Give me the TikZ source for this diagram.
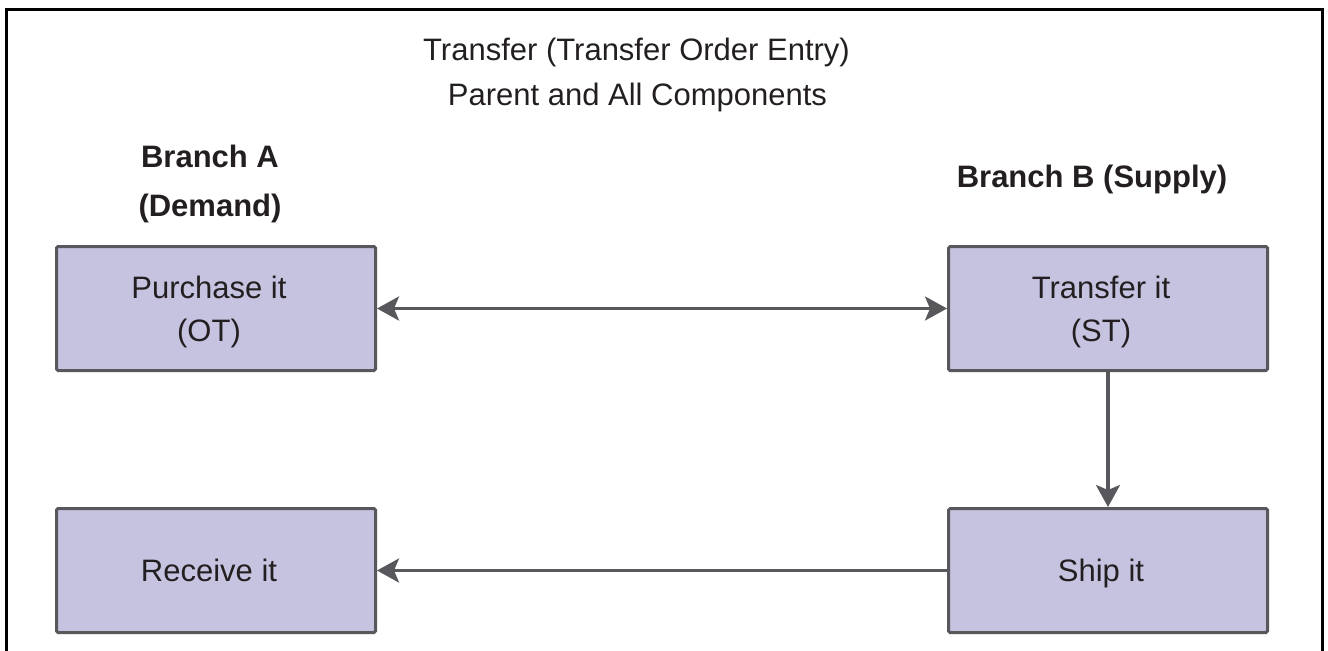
\documentclass[tikz,border=0pt]{standalone}
\usepackage{fontspec}
\setmainfont{Liberation Sans}
\usetikzlibrary{arrows.meta}
\definecolor{boxfill}{RGB}{198,195,225}
\definecolor{boxline}{RGB}{88,88,92}
\definecolor{txt}{RGB}{35,31,32}
\newcommand{\tshift}{\hspace*{7pt}}
\begin{document}
\begin{tikzpicture}[x=0.5pt,y=-0.5pt,
  font=\fontsize{15.5}{21.5}\selectfont, text=txt,
  box/.style={draw=boxline, fill=boxfill, line width=1.5pt, rounded corners=0.8pt,
    minimum width=159.5pt, minimum height=62pt, align=center, inner sep=0pt, text depth=0pt},
  tip/.tip={Stealth[length=11pt,width=12pt,inset=2.5pt]},
  conn/.style={draw=boxline, line width=1.6pt, -tip},
  dconn/.style={draw=boxline, line width=1.6pt, tip-tip},
  lbl/.style={anchor=base, inner sep=0pt},
  frame/.style={draw=black, line width=1.5pt}]
\useasboundingbox (0,0) rectangle (1328,650);
\draw[frame] (6,651) -- (6,9) -- (1322,9) -- (1322,651);

\node[lbl] (t1) at (636.5,60) {Transfer (Transfer Order Entry)};
\node[lbl] (t2) at (637.5,105) {Parent and All Components};
\node[lbl,font=\fontsize{15.5}{21.5}\selectfont\bfseries] (ba1) at (210,167) {Branch A};
\node[lbl,font=\fontsize{15.5}{21.5}\selectfont\bfseries] (ba2) at (210,216) {(Demand)};
\node[lbl,font=\fontsize{15.5}{21.5}\selectfont\bfseries] (bb) at (1092,187) {Branch B (Supply)};

\node[box] (purchase) at (216,308.5) {Purchase it\tshift\\(OT)\tshift};
\node[box] (transfer) at (1108,308.5) {Transfer it\tshift\\(ST)\tshift};
\node[box] (ship) at (1108,570.5) {Ship it\tshift};
\node[box] (receive) at (216,570.5) {Receive it\tshift};

\draw[dconn] (purchase.east) -- (transfer.west);
\draw[conn] (transfer.south) -- (ship.north);
\draw[conn] (ship.west) -- (receive.east);
\end{tikzpicture}
\end{document}
